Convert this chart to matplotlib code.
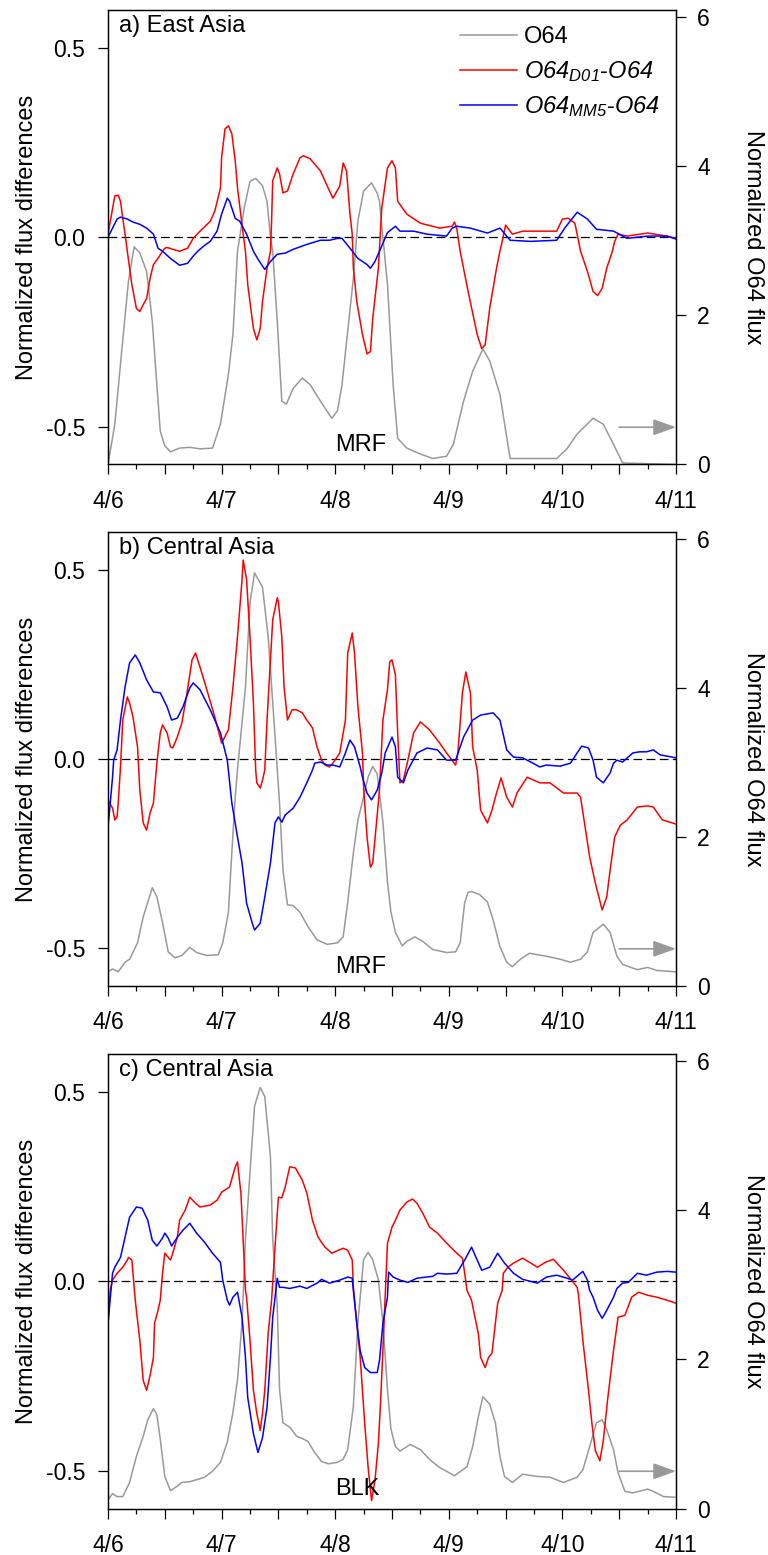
import numpy as np
import matplotlib
matplotlib.use('Agg')
import matplotlib.pyplot as plt
from matplotlib.ticker import FormatStrFormatter

plt.rcParams['font.family'] = ['Liberation Sans', 'DejaVu Sans']
plt.rcParams['mathtext.fontset'] = 'custom'
plt.rcParams['mathtext.rm'] = 'Liberation Sans:italic'
plt.rcParams['mathtext.it'] = 'Liberation Sans:italic'
plt.rcParams['axes.unicode_minus'] = False

# days since 4/6 00 UTC
day_ticks = [0, 1, 2, 3, 4, 5]
day_labels = ['4/6', '4/7', '4/8', '4/9', '4/10', '4/11']

# ---- a) East Asia ----
a_o64_t = [0.00, 0.06, 0.12, 0.18, 0.23, 0.28, 0.34, 0.39, 0.43, 0.46, 0.50, 0.55, 0.63, 0.72, 0.81,
           0.92, 0.99, 1.06, 1.10, 1.14, 1.20, 1.25, 1.30, 1.36, 1.40, 1.43, 1.45, 1.49, 1.53, 1.57,
           1.63, 1.71, 1.78, 1.87, 1.97, 2.02, 2.06, 2.11, 2.16, 2.20, 2.25, 2.32, 2.37, 2.39, 2.42,
           2.46, 2.51, 2.55, 2.63, 2.75, 2.86, 2.98, 3.04, 3.13, 3.21, 3.30, 3.36, 3.45, 3.54, 3.63,
           3.78, 3.95, 4.04, 4.13, 4.27, 4.36, 4.45, 4.53, 5.00]
a_o64 = [0.00, 0.54, 1.51, 2.46, 2.92, 2.84, 2.59, 1.92, 1.07, 0.45, 0.25, 0.17, 0.22, 0.23, 0.21,
         0.22, 0.54, 1.21, 1.75, 2.86, 3.45, 3.80, 3.84, 3.74, 3.53, 3.05, 2.86, 1.92, 0.85, 0.81,
         1.02, 1.16, 1.07, 0.85, 0.62, 0.72, 1.07, 1.79, 2.50, 3.27, 3.67, 3.78, 3.64, 3.53, 3.05,
         2.42, 1.07, 0.35, 0.22, 0.14, 0.08, 0.11, 0.27, 0.85, 1.25, 1.55, 1.39, 0.94, 0.08, 0.08,
         0.08, 0.08, 0.21, 0.41, 0.62, 0.54, 0.27, 0.02, 0.00]
a_d01_t = [0.00, 0.06, 0.09, 0.11, 0.13, 0.15, 0.17, 0.21, 0.25, 0.28, 0.31, 0.34, 0.37, 0.40, 0.44,
           0.48, 0.50, 0.52, 0.57, 0.63, 0.70, 0.75, 0.81, 0.90, 0.94, 0.99, 1.00, 1.03, 1.06, 1.09,
           1.12, 1.14, 1.19, 1.21, 1.23, 1.28, 1.31, 1.34, 1.36, 1.40, 1.43, 1.44, 1.45, 1.49, 1.51,
           1.54, 1.58, 1.63, 1.69, 1.72, 1.78, 1.87, 1.95, 1.98, 2.04, 2.07, 2.10, 2.13, 2.15, 2.16,
           2.19, 2.24, 2.28, 2.31, 2.33, 2.38, 2.41, 2.46, 2.50, 2.53, 2.55, 2.63, 2.75, 2.92, 3.03,
           3.05, 3.07, 3.10, 3.17, 3.25, 3.29, 3.32, 3.36, 3.42, 3.45, 3.47, 3.50, 3.56, 3.65, 3.80,
           3.95, 4.00, 4.05, 4.11, 4.16, 4.22, 4.27, 4.31, 4.35, 4.39, 4.44, 4.46, 4.49, 4.57, 4.75,
           4.92, 5.00]
a_d01 = [0.008, 0.109, 0.111, 0.095, 0.050, 0.008, -0.037, -0.125, -0.188, -0.196, -0.178, -0.162, -0.109, -0.072, -0.056,
         -0.037, -0.029, -0.027, -0.032, -0.037, -0.029, -0.003, 0.016, 0.042, 0.069, 0.130, 0.210, 0.286, 0.294, 0.273,
         0.202, 0.130, 0.008, -0.037, -0.125, -0.241, -0.271, -0.241, -0.170, -0.082, -0.037, 0.042, 0.149, 0.183, 0.167,
         0.117, 0.122, 0.167, 0.210, 0.215, 0.207, 0.175, 0.122, 0.103, 0.135, 0.196, 0.175, 0.061, 0.008, -0.082,
         -0.170, -0.257, -0.308, -0.302, -0.215, -0.082, 0.077, 0.183, 0.202, 0.183, 0.095, 0.061, 0.037, 0.024, 0.029,
         0.040, 0.024, -0.037, -0.143, -0.257, -0.294, -0.284, -0.188, -0.082, -0.037, -0.011, 0.032, 0.008, 0.016, 0.016,
         0.016, 0.048, 0.050, 0.037, -0.037, -0.090, -0.143, -0.154, -0.135, -0.082, -0.037, -0.011, 0.008, 0.003, 0.011,
         0.003, -0.003]
a_mm5_t = [0.00, 0.04, 0.08, 0.11, 0.17, 0.22, 0.28, 0.34, 0.40, 0.44, 0.48, 0.55, 0.63, 0.70, 0.75,
           0.79, 0.84, 0.90, 0.96, 1.00, 1.05, 1.07, 1.12, 1.16, 1.22, 1.28, 1.32, 1.38, 1.43, 1.49,
           1.56, 1.63, 1.75, 1.87, 1.95, 2.02, 2.06, 2.13, 2.20, 2.28, 2.31, 2.35, 2.39, 2.46, 2.53,
           2.57, 2.69, 2.81, 2.98, 3.03, 3.07, 3.19, 3.34, 3.45, 3.54, 3.72, 3.95, 4.02, 4.13, 4.22,
           4.30, 4.45, 4.57, 4.75, 4.92, 5.00]
a_mm5 = [0.000, 0.024, 0.048, 0.053, 0.048, 0.040, 0.034, 0.024, 0.008, -0.029, -0.037, -0.056, -0.074, -0.069, -0.050,
         -0.037, -0.024, -0.011, 0.016, 0.061, 0.103, 0.095, 0.050, 0.042, 0.008, -0.037, -0.058, -0.085, -0.064, -0.045,
         -0.042, -0.032, -0.019, -0.008, -0.008, -0.003, -0.003, -0.029, -0.056, -0.072, -0.082, -0.064, -0.037, 0.012, 0.029,
         0.016, 0.016, 0.008, 0.003, 0.024, 0.029, 0.024, 0.011, 0.024, -0.008, -0.011, -0.008, 0.024, 0.066, 0.048,
         0.021, 0.016, -0.003, 0.003, 0.003, -0.005]

# ---- b) Central Asia, MRF ----
b_o64_t = [0.00, 0.04, 0.09, 0.15, 0.19, 0.26, 0.31, 0.39, 0.43, 0.48, 0.53, 0.59, 0.65, 0.72, 0.78,
           0.87, 0.97, 1.01, 1.06, 1.09, 1.12, 1.14, 1.21, 1.25, 1.29, 1.36, 1.41, 1.45, 1.49, 1.51,
           1.54, 1.58, 1.63, 1.69, 1.76, 1.84, 1.93, 2.02, 2.07, 2.11, 2.16, 2.20, 2.25, 2.29, 2.33,
           2.37, 2.42, 2.46, 2.49, 2.53, 2.59, 2.63, 2.70, 2.77, 2.86, 2.98, 3.06, 3.10, 3.14, 3.17,
           3.20, 3.27, 3.34, 3.39, 3.45, 3.51, 3.56, 3.63, 3.71, 3.86, 3.98, 4.07, 4.16, 4.22, 4.27,
           4.36, 4.42, 4.48, 4.53, 4.66, 4.75, 4.83, 5.00]
b_o64 = [0.19, 0.23, 0.19, 0.32, 0.36, 0.58, 0.93, 1.32, 1.20, 0.85, 0.46, 0.38, 0.41, 0.52, 0.45,
         0.41, 0.42, 0.58, 0.99, 1.79, 2.54, 2.91, 4.01, 5.15, 5.55, 5.36, 4.69, 3.81, 2.91, 2.46,
         1.56, 1.09, 1.08, 0.99, 0.80, 0.62, 0.56, 0.58, 0.66, 1.12, 1.79, 2.23, 2.54, 2.81, 2.95,
         2.85, 2.20, 1.40, 1.00, 0.72, 0.54, 0.60, 0.66, 0.60, 0.49, 0.45, 0.46, 0.58, 1.12, 1.26,
         1.27, 1.23, 1.13, 0.89, 0.53, 0.32, 0.26, 0.36, 0.44, 0.40, 0.36, 0.32, 0.36, 0.46, 0.72,
         0.83, 0.72, 0.40, 0.29, 0.22, 0.25, 0.21, 0.19]
b_d01_t = [0.00, 0.04, 0.06, 0.08, 0.09, 0.11, 0.13, 0.17, 0.19, 0.22, 0.26, 0.28, 0.31, 0.34, 0.37,
           0.40, 0.43, 0.46, 0.48, 0.52, 0.55, 0.57, 0.61, 0.65, 0.69, 0.74, 0.77, 0.81, 0.87, 0.94,
           1.00, 1.06, 1.10, 1.14, 1.18, 1.19, 1.22, 1.25, 1.28, 1.30, 1.31, 1.34, 1.36, 1.38, 1.40,
           1.43, 1.45, 1.49, 1.50, 1.53, 1.55, 1.58, 1.62, 1.66, 1.71, 1.75, 1.80, 1.84, 1.88, 1.91,
           1.95, 1.98, 2.04, 2.09, 2.11, 2.15, 2.17, 2.20, 2.24, 2.25, 2.28, 2.31, 2.33, 2.36, 2.39,
           2.42, 2.46, 2.48, 2.50, 2.53, 2.55, 2.57, 2.60, 2.64, 2.69, 2.75, 2.83, 2.92, 2.98, 3.06,
           3.08, 3.12, 3.15, 3.19, 3.21, 3.25, 3.28, 3.34, 3.38, 3.42, 3.46, 3.51, 3.56, 3.60, 3.69,
           3.80, 3.89, 4.01, 4.13, 4.16, 4.20, 4.24, 4.29, 4.35, 4.39, 4.42, 4.46, 4.51, 4.57, 4.66,
           4.75, 4.80, 4.88, 5.00]
b_d01 = [-0.108, -0.130, -0.161, -0.153, -0.116, -0.021, 0.103, 0.164, 0.148, 0.111, 0.032, -0.082, -0.169, -0.188, -0.143,
         -0.116, -0.011, 0.069, 0.090, 0.069, 0.032, 0.029, 0.058, 0.095, 0.164, 0.262, 0.280, 0.243, 0.183, 0.111,
         0.042, 0.077, 0.190, 0.323, 0.474, 0.526, 0.474, 0.323, 0.148, -0.029, -0.063, -0.077, -0.056, -0.029, 0.103,
         0.262, 0.368, 0.426, 0.415, 0.323, 0.190, 0.103, 0.130, 0.130, 0.122, 0.103, 0.082, 0.032, -0.003, -0.016,
         -0.021, -0.011, 0.016, 0.103, 0.280, 0.333, 0.280, 0.138, 0.016, -0.074, -0.206, -0.286, -0.275, -0.180, -0.082,
         0.103, 0.183, 0.257, 0.262, 0.222, 0.069, -0.063, -0.056, -0.003, 0.069, 0.098, 0.077, 0.042, 0.016, -0.016,
         0.016, 0.175, 0.230, 0.175, 0.032, -0.029, -0.135, -0.169, -0.135, -0.090, -0.050, -0.101, -0.127, -0.090, -0.048,
         -0.063, -0.063, -0.090, -0.090, -0.101, -0.180, -0.259, -0.328, -0.399, -0.365, -0.294, -0.206, -0.175, -0.161, -0.127,
         -0.124, -0.127, -0.161, -0.172]
b_mm5_t = [0.00, 0.02, 0.04, 0.05, 0.08, 0.11, 0.15, 0.19, 0.24, 0.28, 0.34, 0.40, 0.46, 0.52, 0.56,
           0.61, 0.66, 0.72, 0.75, 0.81, 0.90, 0.99, 1.05, 1.09, 1.14, 1.18, 1.22, 1.27, 1.29, 1.34,
           1.38, 1.43, 1.47, 1.50, 1.53, 1.56, 1.63, 1.69, 1.75, 1.80, 1.82, 1.87, 1.93, 1.98, 2.04,
           2.09, 2.13, 2.17, 2.22, 2.24, 2.28, 2.32, 2.37, 2.41, 2.44, 2.50, 2.53, 2.55, 2.60, 2.64,
           2.72, 2.81, 2.90, 2.98, 3.06, 3.13, 3.21, 3.28, 3.39, 3.45, 3.51, 3.57, 3.65, 3.74, 3.80,
           3.86, 3.98, 4.07, 4.13, 4.17, 4.23, 4.27, 4.30, 4.36, 4.42, 4.45, 4.48, 4.53, 4.62, 4.68,
           4.74, 4.80, 4.86, 5.00]
b_mm5 = [-0.180, -0.116, -0.048, -0.003, 0.024, 0.103, 0.190, 0.254, 0.275, 0.254, 0.209, 0.177, 0.175, 0.138, 0.103,
         0.108, 0.138, 0.188, 0.201, 0.183, 0.130, 0.069, -0.003, -0.116, -0.206, -0.275, -0.381, -0.434, -0.452, -0.434,
         -0.365, -0.275, -0.169, -0.153, -0.167, -0.148, -0.130, -0.101, -0.063, -0.029, -0.011, -0.008, -0.016, -0.016, -0.021,
         0.016, 0.050, 0.032, -0.021, -0.048, -0.090, -0.108, -0.082, -0.037, 0.016, 0.058, 0.032, -0.048, -0.063, -0.029,
         0.016, 0.029, 0.024, -0.003, -0.003, 0.058, 0.103, 0.116, 0.122, 0.103, 0.024, 0.005, 0.003, -0.011, -0.021,
         -0.016, -0.019, -0.011, 0.016, 0.034, 0.029, -0.003, -0.048, -0.063, -0.037, -0.011, -0.003, -0.008, 0.016, 0.019,
         0.019, 0.024, 0.011, 0.003]

# ---- c) Central Asia, BLK ----
c_o64_t = [0.00, 0.04, 0.08, 0.13, 0.19, 0.25, 0.31, 0.35, 0.40, 0.43, 0.46, 0.50, 0.55, 0.61, 0.65,
           0.72, 0.81, 0.85, 0.92, 0.99, 1.05, 1.10, 1.14, 1.18, 1.21, 1.25, 1.29, 1.34, 1.38, 1.43,
           1.45, 1.49, 1.51, 1.54, 1.60, 1.66, 1.71, 1.76, 1.82, 1.88, 1.94, 2.02, 2.07, 2.11, 2.16,
           2.20, 2.25, 2.29, 2.33, 2.38, 2.42, 2.46, 2.49, 2.53, 2.57, 2.66, 2.75, 2.83, 2.92, 3.05,
           3.16, 3.21, 3.26, 3.30, 3.36, 3.41, 3.45, 3.49, 3.56, 3.65, 3.78, 3.89, 4.01, 4.13, 4.18,
           4.24, 4.30, 4.35, 4.39, 4.45, 4.49, 4.55, 4.62, 4.75, 4.80, 4.89, 5.00]
c_o64 = [0.12, 0.20, 0.16, 0.16, 0.35, 0.70, 0.97, 1.19, 1.34, 1.26, 0.93, 0.43, 0.24, 0.30, 0.35,
         0.36, 0.40, 0.42, 0.50, 0.62, 0.89, 1.29, 1.73, 2.50, 3.61, 4.51, 5.40, 5.65, 5.53, 4.72,
         3.61, 2.71, 1.60, 1.15, 1.09, 0.97, 0.94, 0.90, 0.75, 0.63, 0.60, 0.62, 0.66, 0.79, 1.37,
         2.50, 3.34, 3.44, 3.34, 3.07, 2.50, 1.60, 1.07, 0.83, 0.77, 0.86, 0.79, 0.66, 0.55, 0.44,
         0.56, 0.83, 1.23, 1.50, 1.40, 1.15, 0.70, 0.43, 0.35, 0.46, 0.43, 0.42, 0.35, 0.42, 0.52,
         0.83, 1.15, 1.19, 1.06, 0.79, 0.48, 0.23, 0.21, 0.26, 0.23, 0.16, 0.15]
c_d01_t = [0.00, 0.02, 0.04, 0.08, 0.13, 0.17, 0.18, 0.21, 0.22, 0.24, 0.25, 0.28, 0.31, 0.34, 0.37,
           0.40, 0.41, 0.44, 0.46, 0.48, 0.50, 0.55, 0.57, 0.61, 0.63, 0.68, 0.72, 0.77, 0.81, 0.90,
           0.96, 1.00, 1.07, 1.12, 1.14, 1.15, 1.17, 1.19, 1.21, 1.22, 1.25, 1.28, 1.31, 1.34, 1.36,
           1.38, 1.41, 1.44, 1.47, 1.50, 1.53, 1.56, 1.60, 1.65, 1.71, 1.75, 1.80, 1.85, 1.91, 1.97,
           2.03, 2.07, 2.11, 2.15, 2.16, 2.19, 2.22, 2.26, 2.29, 2.32, 2.35, 2.38, 2.40, 2.43, 2.46,
           2.50, 2.53, 2.57, 2.63, 2.68, 2.72, 2.77, 2.83, 2.90, 2.98, 3.07, 3.12, 3.14, 3.16, 3.20,
           3.23, 3.26, 3.28, 3.32, 3.35, 3.38, 3.41, 3.43, 3.47, 3.48, 3.52, 3.57, 3.65, 3.71, 3.78,
           3.85, 3.92, 4.01, 4.08, 4.13, 4.14, 4.18, 4.23, 4.26, 4.29, 4.33, 4.36, 4.40, 4.45, 4.49,
           4.55, 4.61, 4.67, 4.75, 4.83, 4.92, 5.00]
c_d01 = [-0.111, -0.024, 0.003, 0.021, 0.037, 0.056, 0.063, 0.056, 0.021, -0.050, -0.077, -0.156, -0.262, -0.288, -0.249,
         -0.201, -0.111, -0.077, -0.050, 0.021, 0.074, 0.056, 0.074, 0.116, 0.161, 0.188, 0.222, 0.206, 0.196, 0.201,
         0.214, 0.235, 0.249, 0.302, 0.315, 0.286, 0.233, 0.108, -0.024, -0.042, -0.156, -0.288, -0.349, -0.394, -0.349,
         -0.288, -0.138, -0.050, 0.090, 0.222, 0.220, 0.249, 0.302, 0.299, 0.267, 0.233, 0.161, 0.116, 0.090, 0.074,
         0.082, 0.087, 0.082, 0.056, -0.016, -0.111, -0.201, -0.376, -0.492, -0.579, -0.526, -0.429, -0.315, -0.111, 0.100,
         0.143, 0.161, 0.188, 0.209, 0.217, 0.206, 0.180, 0.143, 0.127, 0.101, 0.074, 0.061, 0.021, -0.024, -0.050,
         -0.095, -0.138, -0.201, -0.228, -0.201, -0.190, -0.111, -0.058, -0.024, 0.021, 0.037, 0.048, 0.061, 0.050, 0.037,
         0.050, 0.058, 0.029, 0.003, -0.016, -0.032, -0.156, -0.288, -0.376, -0.447, -0.474, -0.421, -0.307, -0.183, -0.095,
         -0.090, -0.042, -0.029, -0.037, -0.042, -0.050, -0.058]
c_mm5_t = [0.00, 0.04, 0.06, 0.11, 0.15, 0.19, 0.25, 0.30, 0.35, 0.39, 0.43, 0.48, 0.50, 0.53, 0.56,
           0.61, 0.66, 0.72, 0.78, 0.85, 0.92, 0.99, 1.01, 1.05, 1.07, 1.10, 1.14, 1.18, 1.21, 1.23,
           1.28, 1.32, 1.36, 1.40, 1.43, 1.45, 1.49, 1.51, 1.54, 1.60, 1.69, 1.75, 1.84, 1.88, 1.95,
           2.04, 2.11, 2.15, 2.16, 2.19, 2.22, 2.26, 2.31, 2.37, 2.39, 2.42, 2.46, 2.47, 2.51, 2.57,
           2.64, 2.72, 2.80, 2.86, 2.90, 2.98, 3.07, 3.14, 3.20, 3.25, 3.29, 3.36, 3.43, 3.49, 3.57,
           3.65, 3.78, 3.86, 3.95, 4.04, 4.09, 4.14, 4.18, 4.22, 4.24, 4.27, 4.31, 4.35, 4.39, 4.45,
           4.48, 4.53, 4.58, 4.66, 4.74, 4.83, 4.92, 5.00]
c_mm5 = [-0.111, 0.021, 0.037, 0.063, 0.116, 0.169, 0.196, 0.193, 0.161, 0.108, 0.093, 0.114, 0.127, 0.114, 0.093,
         0.116, 0.135, 0.153, 0.127, 0.103, 0.074, 0.050, 0.003, -0.050, -0.063, -0.042, -0.029, -0.095, -0.201, -0.307,
         -0.402, -0.452, -0.413, -0.333, -0.201, -0.095, 0.008, -0.016, -0.016, -0.019, -0.013, -0.019, -0.005, 0.005, -0.005,
         0.003, 0.011, 0.008, -0.024, -0.111, -0.183, -0.228, -0.241, -0.241, -0.209, -0.111, -0.042, 0.024, 0.011, 0.003,
         -0.003, 0.008, 0.011, 0.013, 0.021, 0.019, 0.021, 0.056, 0.090, 0.056, 0.029, 0.037, 0.074, 0.048, 0.021,
         0.005, -0.005, 0.011, 0.016, 0.008, 0.003, 0.016, 0.026, 0.003, -0.024, -0.042, -0.077, -0.098, -0.077, -0.042,
         -0.019, -0.005, -0.003, 0.021, 0.016, 0.024, 0.026, 0.024]

FS = 17
GRAY = '#999999'


def draw_panel(fig, rect, title, tag, o64_t, o64, d01_t, d01, mm5_t, mm5, legend=False):
    ax = fig.add_axes(rect)
    ax2 = ax.twinx()
    # differences drawn above the O64 curve
    ax.set_zorder(ax2.get_zorder() + 1)
    ax.patch.set_visible(False)

    l0, = ax2.plot(o64_t, o64, color=GRAY, lw=1.1)
    ax.axhline(0, color='k', lw=0.9, ls=(0, (7, 3.5)))
    l1, = ax.plot(d01_t, d01, color='red', lw=1.1)
    l2, = ax.plot(mm5_t, mm5, color='blue', lw=1.1)

    ax.set_xlim(0, 5)
    ax.set_ylim(-0.6, 0.6)
    ax2.set_ylim(0, 6.1)

    ax.set_xticks(np.arange(0, 5.01, 0.5))
    ax.set_xticklabels(['' if v % 1 else day_labels[int(v)] for v in np.arange(0, 5.01, 0.5)])
    ax.set_xticks(np.arange(0, 5.01, 0.25), minor=True)
    ax.set_yticks([-0.5, 0.0, 0.5])
    ax.yaxis.set_major_formatter(FormatStrFormatter('%.1f'))
    ax2.set_yticks([0, 2, 4, 6])

    ax.tick_params(axis='x', which='major', direction='out', length=7.2, width=0.9,
                   labelsize=16.5, pad=11)
    ax.tick_params(axis='x', which='minor', direction='out', length=3.6, width=0.9)
    ax.tick_params(axis='y', direction='out', length=7.2, width=0.9, labelsize=16.5, pad=9)
    ax2.tick_params(axis='y', direction='out', length=7.2, width=0.9, labelsize=16.5, pad=8)
    for sp in list(ax.spines.values()) + list(ax2.spines.values()):
        sp.set_linewidth(0.9)

    ax.set_ylabel('Normalized flux differences', fontsize=FS, va='bottom')
    ax.yaxis.set_label_coords(-0.123, 0.5)
    ax2.set_ylabel('Normalized O64 flux', fontsize=FS, rotation=270, va='bottom')
    ax2.yaxis.set_label_coords(1.116, 0.5)

    ax.text(0.02, 0.952, title, transform=ax.transAxes, fontsize=FS, va='baseline')
    ax.text(2.0, -0.565, tag, fontsize=FS, va='baseline')

    # arrow: grey curve belongs to the right axis
    ax2.annotate('', xy=(5.0, 0.5), xytext=(4.5, 0.5),
                 arrowprops=dict(arrowstyle='-|>,head_length=0.7,head_width=0.25',
                                 color=GRAY, lw=1.2, shrinkA=0, shrinkB=0,
                                 mutation_scale=20))

    if legend:
        ax.legend([l0, l1, l2], ['O64', '$O64_{D01}$-$O64$', '$O64_{MM5}$-$O64$'],
                  loc='upper left', bbox_to_anchor=(0.62, 0.964), frameon=False,
                  fontsize=FS, handlelength=2.4, handletextpad=0.3,
                  labelspacing=0.45, borderpad=0, borderaxespad=0)
    return ax, ax2


fig = plt.figure(figsize=(7.68, 15.55), dpi=100)
left, width = 108 / 768, 568 / 768
draw_panel(fig, [left, 0.7013, width, 0.2923], 'a) East Asia', 'MRF',
           a_o64_t, a_o64, a_d01_t, a_d01, a_mm5_t, a_mm5, legend=True)
draw_panel(fig, [left, 0.3659, width, 0.2920], 'b) Central Asia', 'MRF',
           b_o64_t, b_o64, b_d01_t, b_d01, b_mm5_t, b_mm5)
draw_panel(fig, [left, 0.0299, width, 0.2923], 'c) Central Asia', 'BLK',
           c_o64_t, c_o64, c_d01_t, c_d01, c_mm5_t, c_mm5)

fig.savefig('out.png', dpi=100)
